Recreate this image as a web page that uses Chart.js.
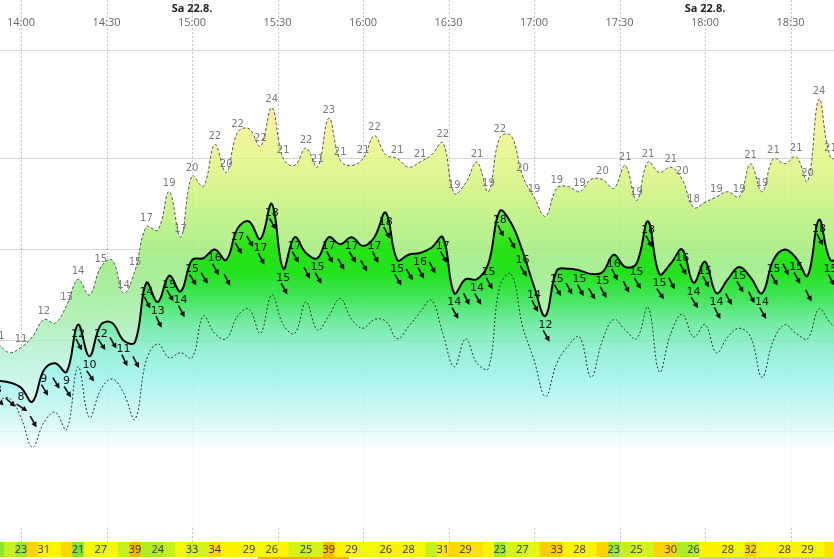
<!DOCTYPE html>
<html>
<head>
<meta charset="utf-8">
<script src="https://cdn.jsdelivr.net/npm/chart.js@4.4.0/dist/chart.umd.min.js"></script>
<style>
  html, body { margin: 0; padding: 0; background: #fff; }
  #wrap { width: 834px; height: 559px; position: relative; }
</style>
</head>
<body>
<div id="wrap"><canvas id="windChart"></canvas></div>
<script>
// 4-minute readings, knots
const times = ['13:52', '13:56',
  '14:00', '14:04', '14:08', '14:12', '14:16', '14:20', '14:24', '14:28', '14:32', '14:36', '14:40', '14:44', '14:48', '14:52', '14:56',
  '15:00', '15:04', '15:08', '15:12', '15:16', '15:20', '15:24', '15:28', '15:32', '15:36', '15:40', '15:44', '15:48', '15:52', '15:56',
  '16:00', '16:04', '16:08', '16:12', '16:16', '16:20', '16:24', '16:28', '16:32', '16:36', '16:40', '16:44', '16:48', '16:52', '16:56',
  '17:00', '17:04', '17:08', '17:12', '17:16', '17:20', '17:24', '17:28', '17:32', '17:36', '17:40', '17:44', '17:48', '17:52', '17:56',
  '18:00', '18:04', '18:08', '18:12', '18:16', '18:20', '18:24', '18:28', '18:32', '18:36', '18:40', '18:44', '18:48'];

const gust = [10.4, 9.9, 10.2, 10.8, 11.8, 11.6, 12.6, 14.1, 13.2, 14.8,
  15.2, 13.3, 14.6, 17.1, 16.9, 19.1, 16.5, 20.0, 19.4, 21.8,
  20.2, 22.5, 22.7, 21.7, 23.9, 21.0, 20.6, 21.6, 20.5, 23.3,
  20.9, 20.6, 21.0, 22.3, 21.2, 21.0, 20.5, 20.8, 21.2, 21.9,
  19.0, 19.6, 20.8, 19.1, 22.2, 22.3, 20.0, 18.8, 17.7, 19.3,
  19.4, 19.1, 19.8, 19.8, 19.3, 20.6, 18.6, 20.8, 20.2, 20.5,
  19.8, 18.2, 18.5, 18.8, 19.1, 18.8, 20.7, 19.1, 21.0, 20.7,
  21.1, 19.7, 24.4, 21.1, 21.0];
const gustText = ['11', '', '11', '', '12', '', '13', '14', '', '15',
  '', '14', '15', '17', '', '19', '17', '20', '', '22',
  '20', '22', '', '22', '24', '21', '', '22', '21', '23',
  '21', '', '21', '22', '', '21', '', '21', '', '22',
  '19', '', '21', '19', '22', '', '20', '19', '', '19',
  '', '19', '', '20', '', '21', '19', '21', '', '21',
  '20', '18', '', '19', '', '19', '21', '19', '21', '',
  '21', '20', '24', '21', ''];

const mean = [8.3, 8.2, 7.9, 7.1, 8.9, 9.3, 8.8, 11.5, 9.7, 11.5,
  11.6, 10.6, 10.5, 13.9, 12.8, 14.3, 13.4, 15.2, 15.3, 15.8,
  15.2, 17.0, 17.4, 16.4, 18.4, 14.7, 16.5, 15.6, 15.3, 16.5,
  16.1, 16.5, 16.0, 16.5, 17.9, 15.2, 15.5, 15.6, 15.9, 16.5,
  13.3, 14.1, 14.1, 15.0, 18.0, 17.3, 15.7, 13.7, 12.0, 14.6,
  14.7, 14.6, 14.4, 14.5, 15.5, 14.8, 15.0, 17.4, 14.4, 15.0,
  15.8, 13.9, 15.1, 13.3, 14.1, 14.8, 14.2, 13.3, 15.2, 15.8,
  15.3, 14.3, 17.5, 15.2, 15.5];
const meanText = ['8', '', '8', '', '9', '', '9', '12', '10', '12',
  '', '11', '', '14', '13', '15', '14', '15', '', '16',
  '', '17', '', '17', '18', '15', '17', '', '15', '17',
  '', '17', '', '17', '18', '15', '', '16', '', '17',
  '14', '', '14', '15', '18', '', '16', '14', '12', '15',
  '', '15', '', '15', '16', '', '15', '18', '15', '',
  '16', '14', '15', '14', '', '15', '', '14', '15', '',
  '15', '', '18', '15', ''];

const lull = [7.2, 7.3, 6.2, 4.5, 5.9, 6.5, 5.5, 9.1, 6.2, 7.8,
  8.4, 7.6, 6.1, 9.5, 10.4, 9.6, 9.9, 9.6, 12.0, 11.0,
  10.7, 12.0, 12.4, 11.0, 13.2, 11.5, 11.0, 12.8, 11.2, 12.0,
  13.0, 11.8, 11.3, 11.8, 11.7, 10.7, 11.4, 12.2, 12.9, 11.0,
  9.1, 10.7, 9.3, 9.0, 13.7, 14.4, 11.4, 9.5, 7.4, 9.3,
  10.3, 10.8, 8.5, 10.6, 11.8, 11.2, 10.7, 12.5, 8.8, 11.0,
  12.1, 10.8, 11.5, 9.9, 10.8, 11.3, 10.8, 8.5, 10.6, 11.5,
  11.0, 10.7, 12.4, 11.6, 11.0];

// wind direction (coming from), degrees
const dirs = [318, 312, 304, 331, 329, 329, 327, 333, 326, 326,
  330, 335, 332, 333, 334, 330, 332, 328, 330, 331,
  333, 330, 329, 332, 330, 331, 329, 333, 330, 332,
  331, 328, 330, 333, 332, 329, 329, 331, 332, 330,
  331, 333, 330, 331, 333, 331, 329, 332, 331, 330,
  331, 332, 330, 331, 333, 333, 330, 332, 326, 333,
  330, 327, 331, 332, 331, 330, 333, 331, 330, 334,
  332, 333, 332, 331, 330];

// bottom strip: colour value per reading, numbers where printed
const stripCells = [22, 25, 23, 33, 29, 29, 32, 21, 28, 27,
  28, 25, 39, 24, 24, 25, 28, 26, 26, 32,
  29, 29, 29, 28, 28, 29, 26, 25, 26, 39,
  29, 29, 28, 28, 28, 29, 28, 28, 25, 30,
  32, 31, 31, 29, 23, 26, 26, 27, 34, 34,
  29, 29, 29, 33, 23, 25, 26, 26, 33, 33,
  24, 24, 29, 29, 29, 28, 33, 29, 29, 29,
  29, 29, 28, 31, 31];
const stripTimes = ['14:00', '14:08', '14:20', '14:28', '14:40', '14:48', '15:00', '15:08', '15:20', '15:28',
  '15:40', '15:48', '15:56', '16:08', '16:16', '16:28', '16:36', '16:48', '16:56', '17:08',
  '17:16', '17:28', '17:36', '17:48', '17:56', '18:08', '18:16', '18:28', '18:36'];
const stripValues = [23, 31, 21, 27, 39, 24, 33, 34, 29, 26,
  25, 39, 29, 26, 28, 31, 29, 23, 27, 33,
  28, 23, 25, 30, 26, 28, 32, 28, 29];

const tickTimes = ['14:00', '14:30', '15:00', '15:30', '16:00', '16:30', '17:00', '17:30', '18:00', '18:30'];
const dayTimes = ['15:00', '18:00'];
const dayLabels = ['Sa 22.8.', 'Sa 22.8.'];
const gridKnots = [5.4, 10.6, 15.8, 21.0];
const markFrom = ['15:23', '17:58'];
const markTo = ['15:55', '18:46'];

function toMin(t) {
  const p = t.split(':');
  return Number(p[0]) * 60 + Number(p[1]);
}

function series(values) {
  return values.map((v, i) => ({ x: toMin(times[i]), y: v }));
}

function hexToRgb(h) {
  return [parseInt(h.slice(1, 3), 16), parseInt(h.slice(3, 5), 16), parseInt(h.slice(5, 7), 16)];
}

function scaleColor(stops, v) {
  if (v <= stops[0][0]) return stops[0][1];
  for (let i = 1; i < stops.length; i++) {
    if (v <= stops[i][0]) {
      const t = (v - stops[i - 1][0]) / (stops[i][0] - stops[i - 1][0]);
      const a = hexToRgb(stops[i - 1][1]), b = hexToRgb(stops[i][1]);
      return 'rgb(' + a.map((c, k) => Math.round(c + (b[k] - c) * t)).join(',') + ')';
    }
  }
  return stops[stops.length - 1][1];
}

const gustStops = [[0, '#ffffff'], [4, '#ffffff'], [6, '#e6fbf8'], [9, '#c6f5e6'], [11, '#b8f2c8'],
  [13, '#aef0a8'], [15, '#a8ee92'], [17, '#bcf28e'], [19, '#d4f590'], [21, '#e8f796'],
  [23, '#f6f29c'], [25, '#fae89c'], [27.2, '#fbd890']];
const meanStops = [[0, '#ffffff'], [4.3, '#ffffff'], [5, '#ecfcfc'], [6.5, '#cef8f6'], [8.5, '#aaf4ee'],
  [10, '#98f0d8'], [11.5, '#78ecaa'], [13, '#44e65c'], [14.5, '#22e21c'], [16, '#28e414'],
  [17.5, '#5ee83a'], [19, '#9cee5a'], [21, '#d0f272'], [27.2, '#f0f080']];
const stripStops = [[21, '#7ee23a'], [23, '#9ce82c'], [25, '#c4f020'], [27, '#e4f614'], [28.5, '#fcf800'],
  [30, '#ffea00'], [32, '#ffd800'], [34, '#ffcc00'], [39, '#f8b800']];

function valueGradient(chart, stops) {
  const { ctx, chartArea, scales } = chart;
  if (!chartArea) return 'rgba(0,0,0,0)';
  const y = scales.y;
  const top = y.getPixelForValue(y.max), bot = y.getPixelForValue(y.min);
  const g = ctx.createLinearGradient(0, top, 0, bot);
  stops.forEach(s => {
    const off = (y.getPixelForValue(s[0]) - top) / (bot - top);
    g.addColorStop(Math.min(1, Math.max(0, off)), s[1]);
  });
  return g;
}

function drawArrow(ctx, cx, cy, deg, len) {
  const a = (deg + 180) * Math.PI / 180;
  const dx = Math.sin(a), dy = -Math.cos(a);
  const x1 = cx + dx * len / 2, y1 = cy + dy * len / 2;
  ctx.beginPath();
  ctx.moveTo(cx - dx * len / 2, cy - dy * len / 2);
  ctx.lineTo(x1 - dx * 3, y1 - dy * 3);
  ctx.stroke();
  const px = -dy, py = dx;
  ctx.beginPath();
  ctx.moveTo(x1, y1);
  ctx.lineTo(x1 - dx * 5.5 + px * 2.8, y1 - dy * 5.5 + py * 2.8);
  ctx.lineTo(x1 - dx * 5.5 - px * 2.8, y1 - dy * 5.5 - py * 2.8);
  ctx.closePath();
  ctx.fill();
}

function drawGrid(chart, hColor, vColor) {
  const { ctx, scales: { x, y } } = chart;
  const W = chart.width, H = chart.height;
  ctx.lineWidth = 1;
  ctx.strokeStyle = hColor;
  gridKnots.forEach(v => {
    const py = Math.round(y.getPixelForValue(v)) + 0.5;
    ctx.beginPath(); ctx.moveTo(0, py); ctx.lineTo(W, py); ctx.stroke();
  });
  ctx.setLineDash([2, 2]);
  ctx.strokeStyle = vColor;
  tickTimes.forEach(t => {
    const px = Math.round(x.getPixelForValue(toMin(t))) + 0.5;
    ctx.beginPath(); ctx.moveTo(px, 0); ctx.lineTo(px, H - 17); ctx.stroke();
  });
  ctx.setLineDash([]);
}

const windDecor = {
  id: 'windDecor',
  beforeDatasetsDraw(chart) {
    chart.ctx.save();
    drawGrid(chart, '#dedede', 'rgba(0,0,0,0.2)');
    chart.ctx.restore();
  },
  afterDatasetsDraw(chart) {
    const { ctx, chartArea, scales: { x, y } } = chart;
    const W = chart.width, H = chart.height;
    ctx.save();

    // faint grid showing through the fills
    drawGrid(chart, 'rgba(0,0,0,0.04)', 'rgba(0,0,0,0.03)');
    ctx.strokeStyle = '#dcdcdc';
    ctx.beginPath(); ctx.moveTo(0, chartArea.top + 0.5); ctx.lineTo(W, chartArea.top + 0.5); ctx.stroke();

    // time labels
    ctx.textAlign = 'center';
    ctx.textBaseline = 'middle';
    ctx.font = '11px "Open Sans"';
    ctx.fillStyle = '#666';
    tickTimes.forEach(t => ctx.fillText(t, x.getPixelForValue(toMin(t)), 23));
    ctx.font = 'bold 11px "Open Sans"';
    ctx.fillStyle = '#222';
    dayTimes.forEach((t, i) => ctx.fillText(dayLabels[i], x.getPixelForValue(toMin(t)), 9));

    // gust numbers
    const gMeta = chart.getDatasetMeta(2);
    ctx.font = '10px "DejaVu Sans"';
    ctx.fillStyle = '#7a7a7a';
    gMeta.data.forEach((pt, i) => {
      if (gustText[i]) ctx.fillText(gustText[i], pt.x, pt.y - 8);
    });

    // mean numbers and direction arrows
    const mMeta = chart.getDatasetMeta(1);
    ctx.font = '11px "DejaVu Sans"';
    ctx.fillStyle = '#111';
    ctx.strokeStyle = '#111';
    ctx.lineWidth = 1.6;
    mMeta.data.forEach((pt, i) => {
      if (meanText[i]) ctx.fillText(meanText[i], pt.x, pt.y + 9);
      drawArrow(ctx, pt.x + 1, pt.y + 20, dirs[i], 13);
    });

    // bottom strip
    stripCells.forEach((v, i) => {
      const t = toMin(times[i]);
      const x0 = x.getPixelForValue(t - 2), x1 = x.getPixelForValue(t + 2);
      ctx.fillStyle = scaleColor(stripStops, v);
      ctx.fillRect(x0, H - 17, x1 - x0 + 0.5, 15);
    });
    ctx.font = '11px "Open Sans"';
    ctx.fillStyle = '#333';
    stripTimes.forEach((t, i) => ctx.fillText(String(stripValues[i]), x.getPixelForValue(toMin(t)), H - 9));
    ['#f5b400', '#c8c8c8'].forEach((c, i) => {
      const x0 = x.getPixelForValue(toMin(markFrom[i])), x1 = x.getPixelForValue(toMin(markTo[i]));
      ctx.fillStyle = c;
      ctx.fillRect(x0, H - 2, x1 - x0, 2);
    });

    ctx.restore();
  }
};

new Chart(document.getElementById('windChart').getContext('2d'), {
  type: 'line',
  data: {
    datasets: [
      {
        label: 'Min',
        data: series(lull),
        borderColor: '#333',
        borderWidth: 1,
        borderDash: [2, 2],
        fill: false,
        pointRadius: 0,
        tension: 0.4
      },
      {
        label: 'Mittel',
        data: series(mean),
        borderColor: '#000',
        borderWidth: 2,
        backgroundColor: ctx => valueGradient(ctx.chart, meanStops),
        fill: 'origin',
        pointRadius: 0,
        tension: 0.4
      },
      {
        label: 'Böen',
        data: series(gust),
        borderColor: '#555',
        borderWidth: 1,
        borderDash: [3, 2],
        backgroundColor: ctx => valueGradient(ctx.chart, gustStops),
        fill: 'origin',
        pointRadius: 0,
        tension: 0.4
      }
    ]
  },
  options: {
    responsive: true,
    maintainAspectRatio: false,
    animation: false,
    events: [],
    layout: { padding: { top: 50, left: 0, right: 0, bottom: 0 } },
    scales: {
      x: { type: 'linear', display: false, min: 832.63, max: 1125.26 },
      y: { type: 'linear', display: false, min: -1.89, max: 27.2 }
    },
    plugins: {
      legend: { display: false },
      tooltip: { enabled: false }
    }
  },
  plugins: [windDecor]
});
</script>
</body>
</html>
